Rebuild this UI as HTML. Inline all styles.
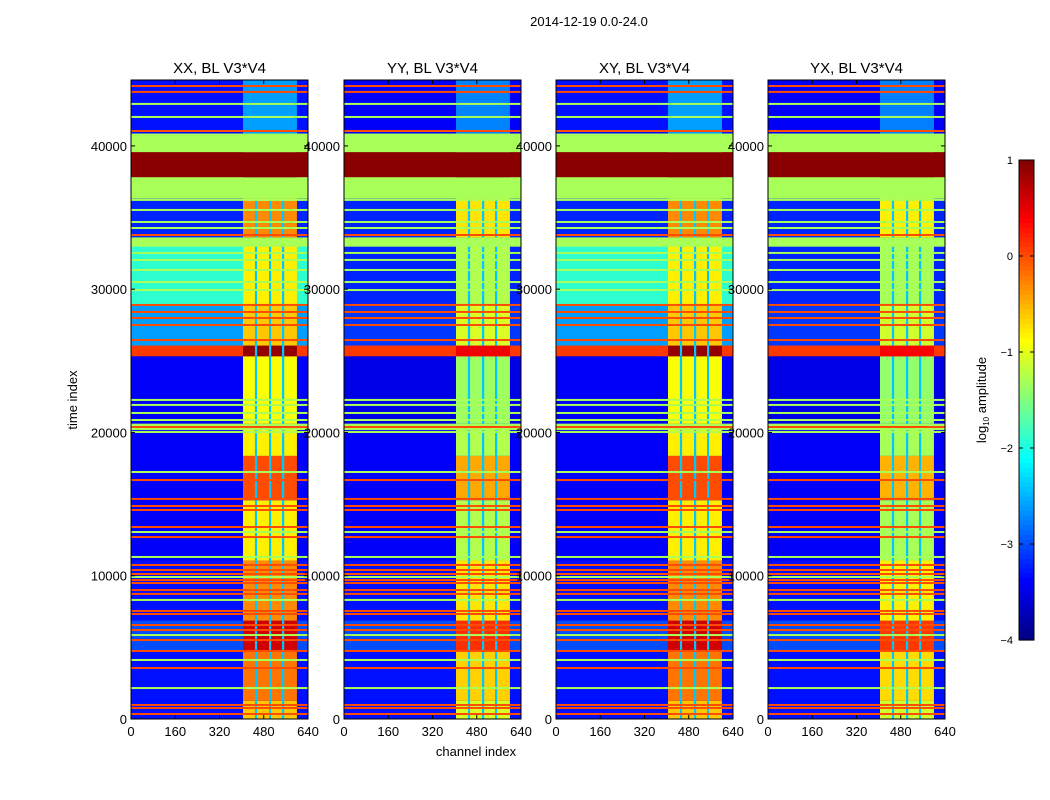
<!DOCTYPE html>
<html><head><meta charset="utf-8">
<style>
body{margin:0;background:#fff;}
svg{display:block;font-family:"Liberation Sans",sans-serif;}
</style></head>
<body>
<svg id="fig" width="1050" height="800" viewBox="0 0 1050 800">
<text x="589" y="26" font-size="13" text-anchor="middle">2014-12-19 0.0-24.0</text>
<text x="476" y="756" font-size="13" text-anchor="middle">channel index</text>
<text transform="translate(77,400) rotate(-90)" font-size="13" text-anchor="middle">time index</text>
<g id="panels"></g>
<g id="cbar"></g>
<text transform="translate(986,400) rotate(-90)" font-size="13" text-anchor="middle">log<tspan font-size="8" dy="3">10</tspan><tspan dy="-3"> amplitude</tspan></text>
</svg>
<script>
// ---- data ----
const panelTitles = ["XX, BL V3*V4","YY, BL V3*V4","XY, BL V3*V4","YX, BL V3*V4"];
const panelRfiShift = [0, -0.45, 0, -0.5];
const xTicks = [0,160,320,480,640];
const yTicks = [0,10000,20000,30000,40000];
const cbarTicks = [1,0,-1,-2,-3,-4];
// time bands: start, end
const bandStart = [0,1300,4800,6900,11100,15300,18400,20200,20650,25350,26100,28900,33000,33650,36350,37850,39600,40300,40900];
const bandEnd   = [1300,4800,6900,11100,15300,18400,20200,20650,25350,26100,28900,33000,33650,36350,37850,39600,40300,40900,44600];
// background value (log10) for XX/XY and for YY/YX
const bandBgX  = [-3.3,-3.3,-3.0,-3.3,-3.4,-3.4,-3.4,-1.3,-3.4,0.1,-2.6,-1.9,-1.3,-3.2,-1.3,0.95,-1.3,-1.3,-3.3];
const bandBgY  = [-3.3,-3.3,-3.0,-3.3,-3.4,-3.4,-3.4,-1.3,-3.5,0.1,-3.1,-3.2,-1.3,-3.2,-1.3,0.95,-1.3,-1.3,-3.4];
// value in the RFI channel block (405-600)
const bandRfi  = [-0.6,-0.2,0.6,-0.3,-0.8,0.0,-0.8,-1.3,-0.9,0.9,-0.6,-0.8,-1.3,-0.3,-1.3,0.95,-1.3,-1.3,-2.6];
const rfiStart = 405, rfiEnd = 600;
const gapChannels = [452,503,550];
// thin full-width lines: time index and value
const lineT = [44180,43770,41040,33780,28900,28410,27990,27500,26450,20380,16680,15360,14870,14590,13400,12700,10750,10400,10120,9700,9490,9000,8730,7540,7330,6560,6210,5510,4750,3560,980,770,350,
  42930,42020,40070,36230,35530,34690,34270,32530,32040,31340,30500,29940,22270,21920,21360,20870,20030,17240,13050,11310,9910,8310,5860,4120,2160];
const lineV = [0,0,0,0,0,0,0,0,0,0,0,0,0,0,0,0,0,0,0,0,0,0,0,0,0,0,0,0,0,0,0,0,0,
  -1.3,-1.3,-1.3,-1.3,-1.3,-1.3,-1.3,-1.3,-1.3,-1.3,-1.3,-1.3,-1.3,-1.3,-1.3,-1.3,-1.3,-1.3,-1.3,-1.3,-1.3,-1.3,-1.3,-1.3,-1.3];

// ---- helpers ----
const NS="http://www.w3.org/2000/svg";
function mk(tag,attrs,parent){const e=document.createElementNS(NS,tag);for(const k in attrs)e.setAttribute(k,attrs[k]);parent.appendChild(e);return e;}
function jet(v){let t=(v+4)/5;t=Math.max(0,Math.min(1,t));
  const f=x=>Math.max(0,Math.min(1,x));
  const r=f(1.5-Math.abs(4*t-3)),g=f(1.5-Math.abs(4*t-2)),b=f(1.5-Math.abs(4*t-1));
  return `rgb(${Math.round(r*255)},${Math.round(g*255)},${Math.round(b*255)})`;}
const panelX=[131,344,556,768], PW=177, PT=80, PB=719, TMAX=44600;
const panels=document.getElementById('panels');
panelTitles.forEach((title,p)=>{
  const x0=panelX[p];
  const xs=c=>x0+c/640*PW;
  const ys=t=>PB-t/TMAX*(PB-PT);
  const g=mk('g',{},panels);
  
  
  const bg = (p===0||p===2)?bandBgX:bandBgY;
  for(let i=0;i<bandStart.length;i++){
    const y1=ys(bandEnd[i]), y2=ys(bandStart[i]);
    const r=mk('rect',{x:x0,y:y1,width:PW,height:y2-y1+0.5,fill:jet(bg[i])},g);
    
    
    let rv=bandRfi[i]; if(rv>bg[i]+0.3) rv=Math.max(bg[i], rv+panelRfiShift[p]); else rv=bg[i];
    if(i===bandStart.length-1) rv=bandRfi[i]+panelRfiShift[p]*0.3;
    const rr=mk('rect',{x:xs(rfiStart),y:y1,width:xs(rfiEnd)-xs(rfiStart),height:y2-y1+0.5,fill:jet(rv)},g);
    
    
    if(rv>bg[i]+0.5){
      gapChannels.forEach(c=>{
        const gr=mk('rect',{x:xs(c-4),y:y1,width:xs(8)-x0,height:y2-y1+0.5,fill:jet(Math.min(rv,-2.4))},g);
        
        
      });
    }
  }
  lineT.forEach((t,i)=>{
    const l=mk('rect',{x:x0,y:ys(t)-1,width:PW,height:2,fill:jet(lineV[i])},g);
    
    
  });
  const fr=mk('rect',{x:x0,y:PT,width:PW,height:PB-PT,fill:'none',stroke:'#000','stroke-width':1},g);
  
  
  const tt=mk('text',{x:x0+PW/2,y:73,'font-size':15,'text-anchor':'middle'},g);
  tt.textContent=title;
  
  
  xTicks.forEach(v=>{
    const x=xs(v);
    mk('line',{x1:x,x2:x,y1:PB,y2:PB-4,stroke:'#000'},g);
    mk('line',{x1:x,x2:x,y1:PT,y2:PT+4,stroke:'#000'},g);
    const t=mk('text',{x:x,y:PB+17,'font-size':13,'text-anchor':'middle'},g);
    t.textContent=v;
    
    
  });
  yTicks.forEach(v=>{
    const y=ys(v);
    mk('line',{x1:x0,x2:x0+4,y1:y,y2:y,stroke:'#000'},g);
    mk('line',{x1:x0+PW,x2:x0+PW-4,y1:y,y2:y,stroke:'#000'},g);
    const t=mk('text',{x:x0-4,y:y+5,'font-size':13,'text-anchor':'end'},g);
    t.textContent=v;
    
    
  });
});
// colorbar
const cb=document.getElementById('cbar');
const CX=1019,CW=15,CT=160,CB=640;
const cys=v=>CB-(v+4)/5*(CB-CT);
for(let k=0;k<100;k++){
  const v=-4+k*0.05;
  mk('rect',{x:CX,y:cys(v+0.05),width:CW,height:(CB-CT)/100+0.6,fill:jet(v+0.025)},cb);
}
mk('rect',{x:CX,y:CT,width:CW,height:CB-CT,fill:'none',stroke:'#000'},cb);
cbarTicks.forEach(v=>{
  const y=cys(v);
  mk('line',{x1:CX,x2:CX+4,y1:y,y2:y,stroke:'#000'},cb);
  mk('line',{x1:CX+CW,x2:CX+CW-4,y1:y,y2:y,stroke:'#000'},cb);
  const t=mk('text',{x:1013,y:y+4,'font-size':11,'text-anchor':'end'},cb);
  t.textContent=v<0?'\u2212'+(-v):v;
  
  
});
</script>
</body></html>
